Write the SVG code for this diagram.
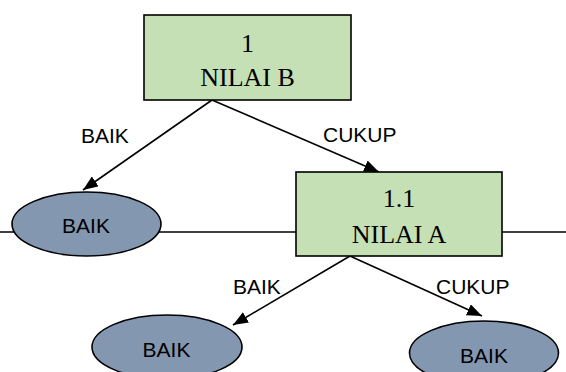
<svg xmlns="http://www.w3.org/2000/svg" width="566" height="372" viewBox="0 0 566 372">
  <style>
    .box { fill: #c5e0b4; stroke: #000; stroke-width: 1.6; }
    .leaf { fill: #8497b0; stroke: #000; stroke-width: 1.6; }
    .edge { fill: none; stroke: #000; stroke-width: 1.6; }
    .serif { font-family: "Liberation Serif", "Times New Roman", serif; font-size: 26px; fill: #000; text-anchor: middle; }
    .sans { font-family: "Liberation Sans", Arial, sans-serif; font-size: 21px; fill: #000; text-anchor: middle; }
    .lbl { font-family: "Liberation Sans", Arial, sans-serif; font-size: 21px; fill: #000; }
  </style>
  <defs>
    <marker id="arrow" viewBox="0 0 15 12" refX="15" refY="6" markerWidth="15" markerHeight="12" markerUnits="userSpaceOnUse" orient="auto">
      <path d="M0,0 L15,6 L0,12 z" fill="#000"/>
    </marker>
  </defs>

  <!-- connectors -->
  <g id="connectors">
    <line class="edge" x1="0" y1="232" x2="566" y2="232"/>
    <line class="edge" x1="212" y1="100" x2="83" y2="190" marker-end="url(#arrow)"/>
    <line class="edge" x1="212" y1="100" x2="379" y2="172" marker-end="url(#arrow)"/>
    <line class="edge" x1="350" y1="256" x2="233" y2="325" marker-end="url(#arrow)"/>
    <line class="edge" x1="350" y1="256" x2="482" y2="316" marker-end="url(#arrow)"/>
    <text class="lbl" x="81" y="143">BAIK</text>
    <text class="lbl" x="323" y="142">CUKUP</text>
    <text class="lbl" x="233" y="294">BAIK</text>
    <text class="lbl" x="436" y="294">CUKUP</text>
  </g>

  <!-- decision node 1 -->
  <g id="node-1">
    <rect class="box" x="144" y="15" width="207" height="85"/>
    <text class="serif" x="247.5" y="52">1</text>
    <text class="serif" x="247.5" y="86">NILAI B</text>
  </g>

  <!-- decision node 1.1 -->
  <g id="node-1-1">
    <rect class="box" x="296" y="172" width="206" height="84"/>
    <text class="serif" x="399" y="207">1.1</text>
    <text class="serif" x="399" y="243">NILAI A</text>
  </g>

  <!-- leaf results -->
  <g id="leaf-1">
    <ellipse class="leaf" cx="86.5" cy="224" rx="74.5" ry="32"/>
    <text class="sans" x="86" y="233">BAIK</text>
  </g>
  <g id="leaf-2">
    <ellipse class="leaf" cx="167" cy="347" rx="75" ry="32"/>
    <text class="sans" x="166.5" y="357">BAIK</text>
  </g>
  <g id="leaf-3">
    <ellipse class="leaf" cx="484" cy="353" rx="74.5" ry="32"/>
    <text class="sans" x="484" y="363">BAIK</text>
  </g>
</svg>
